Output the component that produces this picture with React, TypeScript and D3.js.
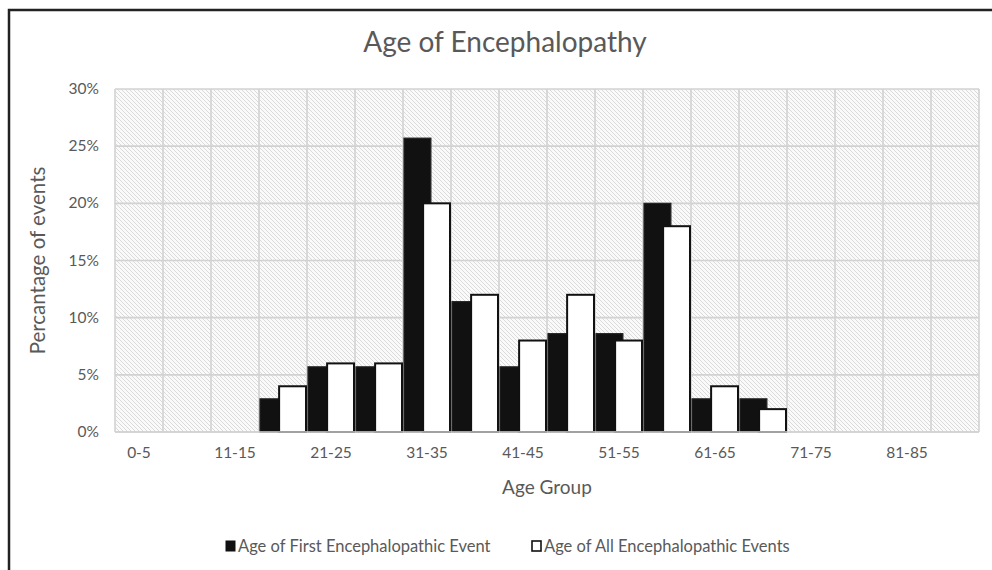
import React from 'react'
import * as d3 from 'd3'

const ageGroups = ['0-5','6-10','11-15','16-20','21-25','26-30','31-35','36-40','41-45','46-50','51-55','56-60','61-65','66-70','71-75','76-80','81-85','86-90'];
const firstEvent = [0,0,0,2.9,5.7,5.7,25.7,11.4,5.7,8.6,8.6,20,2.9,2.9,0,0,0,0];
const allEvents = [0,0,0,4,6,6,20,12,8,12,8,18,4,2,0,0,0,0];
const yTicks = [0,5,10,15,20,25,30];

const FONT = 'Lato, "Open Sans", sans-serif';

export default function App() {
  const W = 992, H = 570;
  const left = 115, right = 979, top = 89, bottom = 432;
  const x = d3.scaleBand<string>().domain(ageGroups).range([left, right]).padding(0);
  const y = d3.scaleLinear().domain([0, 30]).range([bottom, top]);
  const bw = x.bandwidth();
  const barW = bw * 0.56;
  return (
    <svg width={W} height={H} style={{position:'absolute', left:0, top:0, background:'#fff'}}>
      <defs>
        <pattern id="hatch" width="4" height="4" patternUnits="userSpaceOnUse">
          <rect width="4" height="4" fill="#fafafa" />
          <path d="M-1,-1 L5,5 M-1,3 L1,5 M3,-1 L5,1" stroke="#dadada" strokeWidth="1" />
        </pattern>
      </defs>
      <rect x={9} y={10} width={W + 10} height={H + 10} fill="#fff" stroke="#222" strokeWidth={2.5} />
      <text x={505} y={52} textAnchor="middle" fontFamily={FONT} fontSize={28} fill="#595959">Age of Encephalopathy</text>
      <rect x={left} y={top} width={right - left} height={bottom - top} fill="url(#hatch)" />
      {ageGroups.map((g) => (
        <line key={g} x1={x(g)} x2={x(g)} y1={top} y2={bottom} stroke="#d2d2d2" strokeWidth={1.6} />
      ))}
      <line x1={right} x2={right} y1={top} y2={bottom} stroke="#d2d2d2" strokeWidth={1.6} />
      {yTicks.map((t) => (
        <g key={t}>
          <line x1={left} x2={right} y1={y(t)} y2={y(t)} stroke="#d2d2d2" strokeWidth={1.6} />
          <text x={99} y={y(t) + 5} textAnchor="end" fontFamily={FONT} fontSize={15.5} fill="#595959">{t}%</text>
        </g>
      ))}
      {ageGroups.map((g, i) => firstEvent[i] > 0 ? (
        <rect key={'f' + g} x={(x(g) as number) + 1} y={y(firstEvent[i])} width={barW} height={bottom - y(firstEvent[i])}
          fill="#111" stroke="#222" strokeWidth={1.2} />
      ) : null)}
      {ageGroups.map((g, i) => allEvents[i] > 0 ? (
        <rect key={'a' + g} x={(x(g) as number) + bw - barW - 1} y={y(allEvents[i])} width={barW} height={bottom - y(allEvents[i])}
          fill="#fff" stroke="#111" strokeWidth={2} />
      ) : null)}
      <line x1={left} x2={right} y1={bottom} y2={bottom} stroke="#d2d2d2" strokeWidth={1.6} />
      {ageGroups.map((g, i) => i % 2 === 0 ? (
        <text key={'l' + g} x={(x(g) as number) + bw / 2} y={458} textAnchor="middle" fontFamily={FONT} fontSize={15.5} fill="#595959">{g}</text>
      ) : null)}
      <text x={(left + right) / 2} y={494} textAnchor="middle" fontFamily={FONT} fontSize={19} fill="#595959">Age Group</text>
      <text transform={`translate(45,${(top + bottom) / 2}) rotate(-90)`} textAnchor="middle" fontFamily={FONT} fontSize={20.5} fill="#595959">Percantage of events</text>
      <rect x={226} y={541} width={9} height={10} fill="#111" stroke="#111" />
      <text x={238} y={552} fontFamily={FONT} fontSize={16.5} fill="#595959">Age of First Encephalopathic Event</text>
      <rect x={532} y={541} width={9} height={10} fill="#fff" stroke="#111" strokeWidth={1.6} />
      <text x={544} y={552} fontFamily={FONT} fontSize={16.5} fill="#595959">Age of All Encephalopathic Events</text>
    </svg>
  );
}
